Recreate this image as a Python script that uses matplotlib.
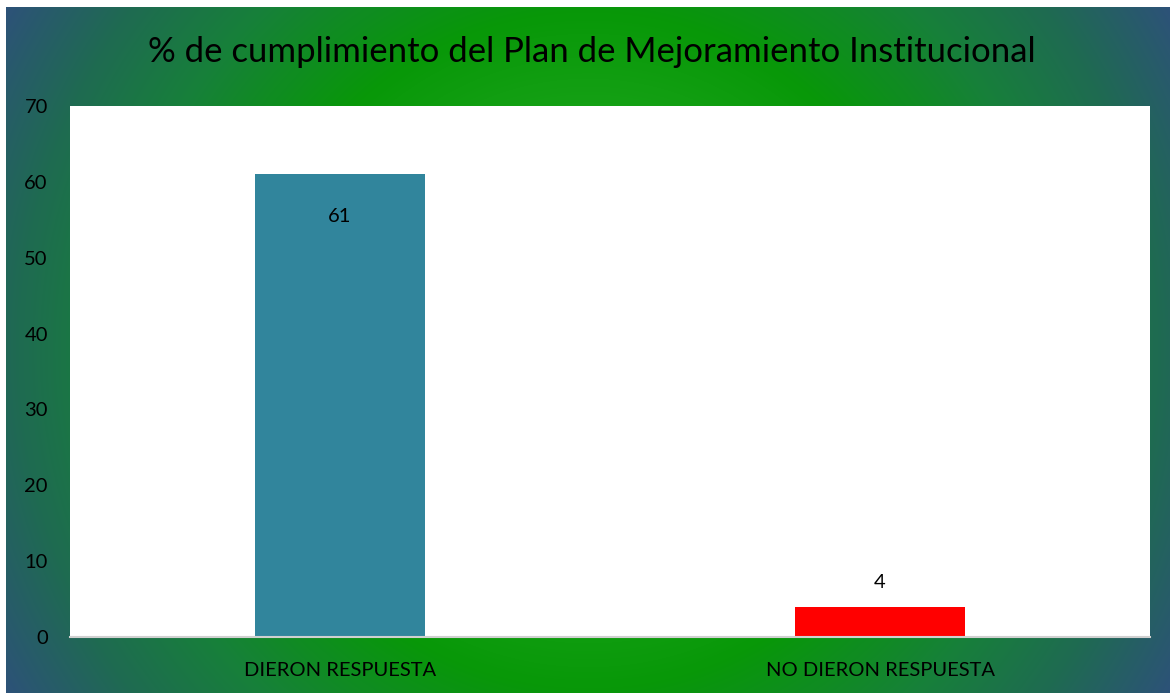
import numpy as np
import matplotlib
matplotlib.use('Agg')
import matplotlib.pyplot as plt
from matplotlib.colors import LinearSegmentedColormap

categorias = ['DIERON RESPUESTA', 'NO DIERON RESPUESTA']
valores = [61, 4]
colores = ['#31859c', '#ff0000']
titulo = '% de cumplimiento del Plan de Mejoramiento Institucional'

plt.rcParams['font.family'] = ['Lato', 'DejaVu Sans']

W, H = 1170, 694
fig = plt.figure(figsize=(W / 100, H / 100), dpi=100)
fig.patch.set_facecolor('white')

# fondo degradado radial
bg = fig.add_axes([6 / W, 1 / H, (W - 6) / W, (H - 8) / H])
yy, xx = np.mgrid[0:H - 8, 0:W - 6]
d = np.hypot(xx - (W - 6) / 2, yy - (H - 8) / 2)
cmap = LinearSegmentedColormap.from_list('fondo', [
    (0.0, '#3cb83c'), (0.3, '#1aa41a'), (0.5, '#089808'),
    (0.7, '#17803a'), (0.85, '#1f6a52'), (1.0, '#2d5278')])
bg.imshow(d / d.max(), cmap=cmap, vmin=0, vmax=1, aspect='auto')
bg.axis('off')

ax = fig.add_axes([70 / W, (H - 637) / H, 1080 / W, (637 - 106) / H])
ax.set_facecolor('white')
x = np.arange(len(categorias))
ax.bar(x, valores, width=0.313, color=colores, zorder=2)
ax.set_xlim(-0.5, 1.5)
ax.set_ylim(0, 70)
ax.set_yticks(range(0, 71, 10))
ax.set_xticks(x)
ax.set_xticklabels(categorias)
ax.tick_params(axis='y', length=0, pad=16, labelsize=14.5)
ax.tick_params(axis='x', length=0, pad=18, labelsize=14.5)
for s in ['top', 'right', 'left']:
    ax.spines[s].set_visible(False)
ax.spines['bottom'].set_color('#d0d0d0')
ax.spines['bottom'].set_linewidth(1.5)

ax.text(x[0], valores[0] - 5.6, str(valores[0]), ha='center', va='center', fontsize=14.5)
ax.text(x[1], valores[1] + 3.2, str(valores[1]), ha='center', va='center', fontsize=14.5)

fig.text(592 / W, 1 - 52 / H, titulo, ha='center', va='center', fontsize=25)

plt.savefig('out.png', dpi=100)
